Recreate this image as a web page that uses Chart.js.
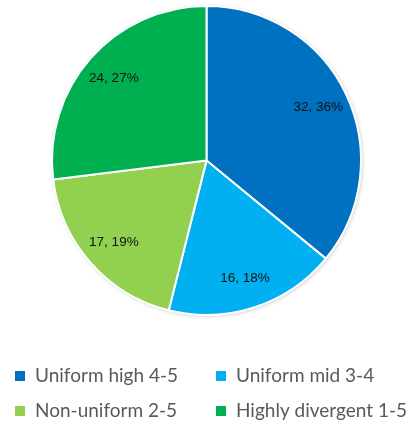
<!DOCTYPE html>
<html>
<head>
<meta charset="utf-8">
<script src="https://cdn.jsdelivr.net/npm/chart.js@4/dist/chart.umd.min.js"></script>
<style>
  html, body { margin: 0; padding: 0; background: #fff; }
  #wrap { width: 414px; height: 423px; position: relative; }
</style>
</head>
<body>
<div id="wrap"><canvas id="c" width="414" height="423"></canvas></div>
<script>
// Response groups and their counts
const categories = ['Uniform high 4-5', 'Uniform mid 3-4', 'Non-uniform 2-5', 'Highly divergent 1-5'];
const counts = [32, 16, 17, 24];
const sliceColors = ['#0070C0', '#00B0F0', '#92D050', '#00B050'];

const total = counts.reduce((a, b) => a + b, 0);

// Soft shadow behind the whole pie
const pieShadow = {
  id: 'pieShadow',
  beforeDatasetsDraw(chart) {
    const arc = chart.getDatasetMeta(0).data[0];
    if (!arc) return;
    const ctx = chart.ctx;
    ctx.save();
    ctx.shadowColor = 'rgba(0,0,0,0.25)';
    ctx.shadowBlur = 4;
    ctx.shadowOffsetX = 1;
    ctx.shadowOffsetY = 1;
    ctx.fillStyle = '#fff';
    ctx.beginPath();
    ctx.arc(arc.x, arc.y, arc.outerRadius, 0, Math.PI * 2);
    ctx.fill();
    ctx.restore();
  }
};

// "count, percent" labels inside each slice
const sliceLabels = {
  id: 'sliceLabels',
  afterDatasetsDraw(chart) {
    const ctx = chart.ctx;
    const meta = chart.getDatasetMeta(0);
    ctx.save();
    ctx.font = '13.5px "Liberation Sans", Arial, sans-serif';
    ctx.fillStyle = '#111';
    ctx.textAlign = 'center';
    ctx.textBaseline = 'middle';
    meta.data.forEach((arc, i) => {
      const mid = (arc.startAngle + arc.endAngle) / 2;
      const r = arc.outerRadius * 0.8;
      const x = arc.x + Math.cos(mid) * r;
      const y = arc.y + Math.sin(mid) * r;
      const v = counts[i];
      ctx.fillText(v + ', ' + Math.round(v / total * 100) + '%', x, y);
    });
    ctx.restore();
  }
};

// Two-column legend below the pie
const gridLegend = {
  id: 'gridLegend',
  afterDraw(chart) {
    const ctx = chart.ctx;
    const colX = [15, 216];
    const rowY = [376, 411];
    ctx.save();
    ctx.font = '19px Lato, "Liberation Sans", Arial, sans-serif';
    ctx.textBaseline = 'middle';
    ctx.textAlign = 'left';
    categories.forEach((name, i) => {
      const x = colX[i % 2];
      const y = rowY[Math.floor(i / 2)];
      ctx.fillStyle = sliceColors[i];
      ctx.fillRect(x, y - 5, 10, 10);
      ctx.fillStyle = '#595959';
      ctx.fillText(name, x + 20, y);
    });
    ctx.restore();
  }
};

new Chart(document.getElementById('c'), {
  type: 'pie',
  data: {
    labels: categories,
    datasets: [{
      data: counts,
      backgroundColor: sliceColors,
      borderColor: '#ffffff',
      borderWidth: 2
    }]
  },
  options: {
    responsive: false,
    animation: false,
    layout: { padding: { top: 5, bottom: 107, left: 0, right: 1 } },
    plugins: {
      legend: { display: false },
      tooltip: { enabled: false }
    }
  },
  plugins: [pieShadow, sliceLabels, gridLegend]
});
</script>
</body>
</html>
